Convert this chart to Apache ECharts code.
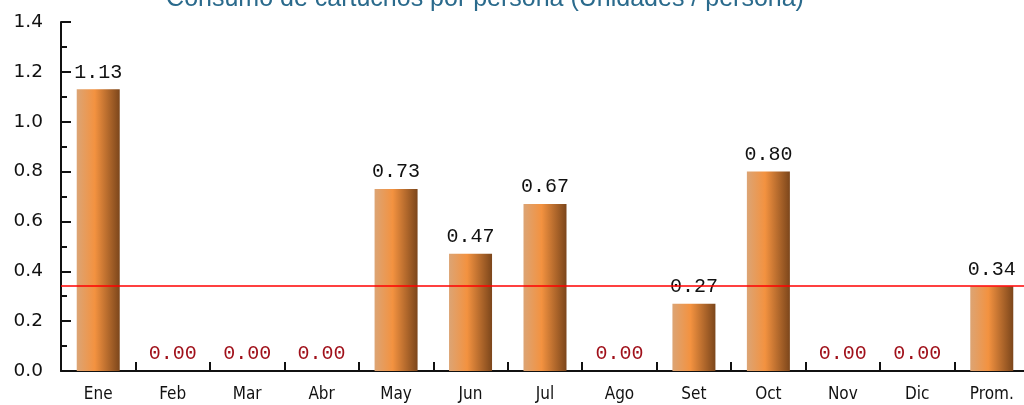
<!DOCTYPE html>
<html><head><meta charset="utf-8">
<script src="https://cdn.jsdelivr.net/npm/echarts@6/dist/echarts.min.js"></script>
<style>html,body{margin:0;padding:0;background:#fff}#c{width:1024px;height:405px}</style>
</head><body><div id="c"></div>
<script>
const titleText = 'Consumo de cartuchos por persona (Unidades / persona)';
const categories = ['Ene','Feb','Mar','Abr','May','Jun','Jul','Ago','Set','Oct','Nov','Dic','Prom.'];
const values = [1.13, 0, 0, 0, 0.73, 0.47, 0.67, 0, 0.27, 0.80, 0, 0, 0.34];
const averageValue = 0.34;
const yTicks = [0, 0.2, 0.4, 0.6, 0.8, 1.0, 1.2, 1.4];

const chart = echarts.init(document.getElementById('c'), null, {renderer:'canvas'});
const barGrad = new echarts.graphic.LinearGradient(0,0,1,0,[
  {offset:0,color:'#dca474'},{offset:0.42,color:'#f39240'},{offset:1,color:'#7c461b'}]);
chart.setOption({
  animation:false,
  backgroundColor:'#fff',
  title:{text:titleText,left:480,textAlign:'center',top:-18,
    textStyle:{fontFamily:'Liberation Sans',fontWeight:'normal',fontSize:25,color:'#2a6a8c'}},
  grid:{left:61,top:22,width:968,bottom:34,outerBoundsMode:'none',containLabel:false},
  xAxis:{type:'category',data:categories,
    axisLine:{lineStyle:{color:'#111',width:2}},
    axisTick:{show:true,inside:true,length:9,lineStyle:{color:'#111',width:2}},
    axisLabel:{color:'#111',fontFamily:'DejaVu Sans Condensed',fontSize:17,margin:15}},
  yAxis:{type:'value',min:0,max:1.4,interval:0.2,
    axisLine:{show:true,lineStyle:{color:'#111',width:2}},
    axisTick:{show:true,inside:true,length:10,lineStyle:{color:'#111',width:2}},
    minorTick:{show:true,splitNumber:2,length:6,lineStyle:{color:'#111',width:2}},
    splitLine:{show:false},
    axisLabel:{color:'#111',fontFamily:'DejaVu Sans',fontSize:18.5,margin:18,
      formatter:v=>{const t=yTicks.find(x=>Math.abs(x-v)<1e-9);return (t===undefined?v:t).toFixed(1);}}},
  series:[{type:'bar',data:values.map(v=>({value:v,label:{color:v===0?'#a0101a':'#111'}})),
    barWidth:43,
    itemStyle:{color:barGrad},
    label:{show:true,position:'top',distance:7,fontFamily:'Liberation Mono',fontSize:20,
      formatter:p=>Number(p.value).toFixed(2)},
    markLine:{silent:true,symbol:'none',label:{show:false},
      lineStyle:{color:'#ff0000',width:1.5,type:'solid'},
      data:[{yAxis:averageValue}]}
  }]
});
</script></body></html>
